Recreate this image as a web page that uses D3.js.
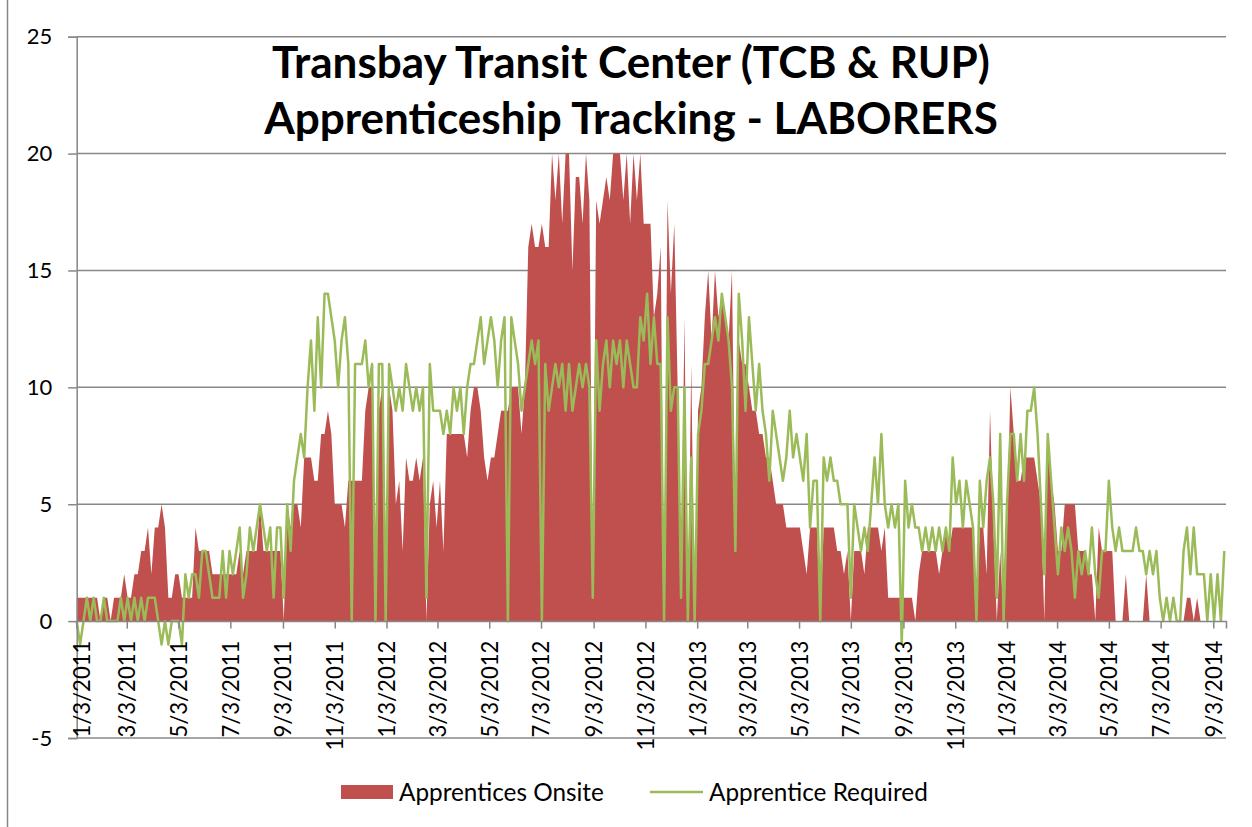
<!DOCTYPE html>
<html>
<head>
<meta charset="utf-8">
<script src="https://cdn.jsdelivr.net/npm/d3@7"></script>
<style>
  body { margin: 0; background: #fff; }
  svg { display: block; font-family: Lato, "Open Sans", sans-serif; }
</style>
</head>
<body>
<div id="chart"></div>
<script>
// data: one value every 4 days starting 1/3/2011
const startDate = "2011-01-03";
const endDate = "2014-09-18";
const stepDays = 4;

const onsite = [
  1,1,1,1,1,1,1,0,1,1,
  0,1,1,1,2,1,1,2,2,3,
  3,4,2,4,4,5,4,1,1,2,
  2,1,1,1,1,4,3,3,3,3,
  2,2,2,2,2,2,2,2,3,2,
  3,3,3,3,5,3,3,3,3,3,
  3,0,5,4,5,5,4,7,7,7,
  6,6,8,8,9,8,5,5,5,4,
  6,6,6,6,6,9,10,10,0,9,
  10,0,10,9,5,6,3,7,6,6,
  7,6,7,0,5,6,4,6,3,8,
  8,8,8,8,8,7,9,10,10,9,
  7,6,7,7,8,9,9,9,10,10,
  10,8,10,16,17,16,16,17,16,16,
  20,18,20,17,20,20,15,19,19,17,
  20,18,1,18,17,18,19,18,20,20,
  20,18,20,17,20,18,20,17,17,17,
  13,14,16,0,18,14,17,10,1,13,
  0,11,0,9,10,13,15,12,15,13,
  14,13,12,15,3,12,11,11,10,9,
  9,8,8,7,7,6,5,5,5,4,
  4,4,4,4,3,2,4,4,4,0,
  4,4,4,4,3,3,2,3,0,3,
  3,3,2,4,4,4,4,3,4,1,
  1,1,1,1,1,1,1,0,2,3,
  3,3,3,3,2,3,4,3,4,4,
  4,4,4,4,4,0,4,4,2,9,
  4,0,3,0,4,10,8,6,6,7,
  7,7,7,6,5,0,8,6,5,3,
  3,5,5,5,5,3,3,3,2,2,
  0,4,3,3,3,3,0,0,0,2,
  0,0,0,0,0,2,0,0,0,0,
  0,0,0,0,0,0,0,1,1,0,
  1,0,0,0,0,0,0,0,0
];

const required = [
  0,-1,0,1,0,1,0,0,1,0,
  0,0,0,1,0,1,0,1,0,1,
  0,1,1,1,0,-1,0,-1,0,0,
  0,-1,2,1,2,2,1,3,3,2,
  1,1,1,3,1,3,2,3,4,1,
  2,4,3,4,5,4,3,4,1,4,
  4,1,5,3,6,7,8,7,10,12,
  9,13,10,14,14,13,12,10,12,13,
  11,0,11,11,11,12,10,11,0,11,
  11,0,11,10,9,10,9,11,10,9,
  10,9,10,1,11,9,9,9,8,9,
  8,10,9,10,8,10,11,11,12,13,
  11,12,13,12,10,12,13,0,13,12,
  11,9,10,11,12,11,12,0,11,9,
  10,11,10,11,9,11,9,10,11,10,
  11,10,1,12,9,11,12,10,12,11,
  12,10,12,11,10,10,13,12,14,11,
  13,11,11,0,13,9,10,10,1,10,
  0,7,0,8,9,11,11,12,13,12,
  14,13,12,10,3,14,12,9,13,11,
  9,11,9,8,6,9,8,7,6,7,
  9,7,8,7,6,8,4,6,6,0,
  7,6,7,6,6,5,5,5,1,5,
  4,3,4,3,5,7,5,8,5,4,
  5,4,5,-1,6,4,5,4,4,3,
  4,3,4,3,4,3,4,3,7,5,
  6,4,6,5,4,0,6,4,6,7,
  5,1,8,0,5,8,8,6,8,6,
  9,9,10,8,5,2,8,6,4,2,
  4,3,4,3,1,3,2,3,2,4,
  2,1,3,3,6,4,3,4,3,3,
  3,3,4,3,3,2,3,2,3,1,
  0,1,0,1,0,0,3,4,2,4,
  2,2,2,0,2,0,2,0,3
];

const xTickLabels = [
  "1/3/2011", "3/3/2011", "5/3/2011", "7/3/2011", "9/3/2011", "11/3/2011",
  "1/3/2012", "3/3/2012", "5/3/2012", "7/3/2012", "9/3/2012", "11/3/2012",
  "1/3/2013", "3/3/2013", "5/3/2013", "7/3/2013", "9/3/2013", "11/3/2013",
  "1/3/2014", "3/3/2014", "5/3/2014", "7/3/2014", "9/3/2014"
];
const yTicks = [-5, 0, 5, 10, 15, 20, 25];
const seriesNames = ["Apprentices Onsite", "Apprentice Required"];
const titleLines = ["Transbay Transit Center (TCB & RUP)", "Apprenticeship Tracking - LABORERS"];

const colors = { onsite: "#C0504D", required: "#9BBB59", grid: "#878787" };

// scale a text's font size so that it spans the wanted width
function fitSize(sel, target) {
  const len = sel.node().getComputedTextLength();
  const fs = parseFloat(sel.style("font-size"));
  return fs * target / len;
}

function drawChart() {
  const width = 1252, height = 827;
  const plot = { left: 76.7, right: 1226, top: 36.7, bottom: 738 };

  const svg = d3.select("#chart").append("svg")
    .attr("width", width)
    .attr("height", height);

  svg.append("rect").attr("width", width).attr("height", height).attr("fill", "#fff");

  // outer chart border (only the left edge is in frame)
  svg.append("line")
    .attr("x1", 7.5).attr("x2", 7.5)
    .attr("y1", 0).attr("y2", height)
    .attr("stroke", colors.grid)
    .attr("stroke-width", 1.5);

  const parseIso = d3.utcParse("%Y-%m-%d");
  const parseLabel = d3.utcParse("%m/%d/%Y");
  const t0 = parseIso(startDate);
  const dates = onsite.map((d, i) => d3.utcDay.offset(t0, i * stepDays));
  const tickDates = xTickLabels.map(parseLabel);

  const x = d3.scaleUtc()
    .domain([t0, parseIso(endDate)])
    .range([plot.left, plot.right]);
  const y = d3.scaleLinear()
    .domain([-5, 25])
    .range([plot.bottom, plot.top]);

  // gridlines
  svg.append("g")
    .selectAll("line")
    .data(yTicks.filter(d => d !== 0))
    .join("line")
    .attr("x1", plot.left).attr("x2", plot.right)
    .attr("y1", d => y(d)).attr("y2", d => y(d))
    .attr("stroke", colors.grid)
    .attr("stroke-width", 1.5);

  // onsite area
  const area = d3.area()
    .x((d, i) => x(dates[i]))
    .y0(y(0))
    .y1(d => y(d));
  svg.append("path")
    .datum(onsite)
    .attr("d", area)
    .attr("fill", colors.onsite);

  // required line
  const line = d3.line()
    .x((d, i) => x(dates[i]))
    .y(d => y(d));
  svg.append("path")
    .datum(required)
    .attr("d", line)
    .attr("fill", "none")
    .attr("stroke", colors.required)
    .attr("stroke-width", 2.5)
    .attr("stroke-linejoin", "round");

  // y axis
  const yAxis = svg.append("g").attr("transform", `translate(${plot.left},0)`)
    .call(d3.axisLeft(y).tickValues(yTicks).tickSize(8.5).tickPadding(16).tickFormat(d => String(d)));
  yAxis.select(".domain").attr("stroke", colors.grid).attr("stroke-width", 1.5);
  yAxis.selectAll(".tick line").attr("stroke", colors.grid).attr("stroke-width", 1.5);
  yAxis.selectAll(".tick text")
    .attr("fill", "#000")
    .style("font-size", "22px")
    .style("font-family", "Lato, sans-serif");

  // x axis crossing at 0, labels just below it
  const xAxis = svg.append("g").attr("transform", `translate(0,${y(0)})`)
    .call(d3.axisBottom(x).tickValues(tickDates).tickSize(7.5).tickFormat((d, i) => xTickLabels[i]));
  xAxis.select(".domain").attr("stroke", colors.grid).attr("stroke-width", 1.5);
  xAxis.selectAll(".tick line").attr("stroke", colors.grid).attr("stroke-width", 1.5);
  const xLabels = xAxis.selectAll(".tick text")
    .attr("fill", "#000")
    .attr("y", 0)
    .attr("dy", "0.36em")
    .attr("transform", (d, i) => `translate(${i === 0 ? 5 : 0},19.5) rotate(-90)`)
    .attr("text-anchor", "end")
    .style("font-family", "Lato, sans-serif")
    .style("font-size", "22px");
  const xFs = fitSize(xLabels.filter((d, i) => i === 0), 97);
  xLabels.style("font-size", xFs + "px");

  // title
  const title = svg.append("g");
  const titleTexts = titleLines.map((t, i) =>
    title.append("text")
      .attr("x", 631)
      .attr("y", 78 + i * 55.5)
      .attr("text-anchor", "middle")
      .style("font-size", "40px")
      .style("font-weight", "bold")
      .attr("fill", "#000")
      .text(t));
  const titleFs = fitSize(titleTexts[0], 718);
  titleTexts.forEach(t => t.style("font-size", titleFs + "px"));

  // legend
  const legend = svg.append("g");
  legend.append("rect")
    .attr("x", 341).attr("y", 785)
    .attr("width", 52).attr("height", 14)
    .attr("fill", colors.onsite);
  const leg1 = legend.append("text")
    .attr("x", 399).attr("y", 792).attr("dy", "0.36em")
    .style("font-size", "22px")
    .text(seriesNames[0]);
  legend.append("line")
    .attr("x1", 650).attr("x2", 703)
    .attr("y1", 792).attr("y2", 792)
    .attr("stroke", colors.required)
    .attr("stroke-width", 2.5);
  const leg2 = legend.append("text")
    .attr("x", 709).attr("y", 792).attr("dy", "0.36em")
    .style("font-size", "22px")
    .text(seriesNames[1]);
  const legFs = fitSize(leg1, 205);
  leg1.style("font-size", legFs + "px");
  leg2.style("font-size", legFs + "px");
}

drawChart();
</script>
</body>
</html>
